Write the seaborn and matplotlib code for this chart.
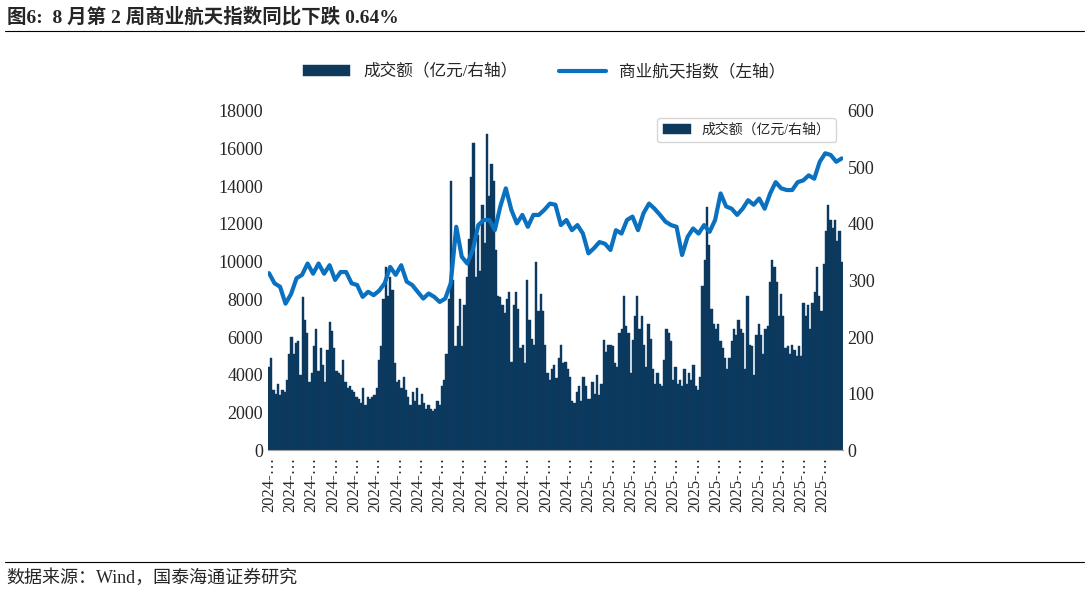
import numpy as np
import pandas as pd
import matplotlib
matplotlib.use("Agg")
import matplotlib.pyplot as plt
import seaborn as sns

turnover = [4400,4900,3200,3000,3500,2900,3200,3100,
 3700,5100,6000,5100,5700,5800,
 4000,8100,6900,6200,3600,
 4100,5500,6400,4200,5400,4500,3600,
 5300,6800,6300,5400,4200,
 4100,4000,4800,3600,3300,3400,
 3200,3100,2800,2700,2500,3300,2400,2800,
 2700,2800,2900,3300,
 4800,5500,8000,9700,8200,9200,8500,4600,
 3600,3700,3300,3900,3200,2800,2400,3100,2600,
 3300,2400,3000,2500,2200,2400,2200,
 2100,2200,2600,2400,3400,
 3700,5100,8000,14300,9000,5500,6600,8000,5500,
 7700,9200,11200,14500,16300,9200,11400,9500,13000,
 11000,16800,13500,15200,14300,10600,
 8200,8100,7700,7300,8000,8400,4700,7700,8400,7500,5400,5600,4600,9000,6900,
 5900,5600,10000,7400,8300,7400,5600,
 4100,3700,4300,4500,3800,4900,5600,4600,4700,4300,3900,
 2600,2500,3100,3400,2600,3900,3400,2700,2700,3600,3000,4000,2900,3500,
 5840,5200,5600,5600,5500,4600,4400,
 6200,6400,8200,6600,6200,4100,
 5840,7100,8200,6400,7100,5600,4400,
 6700,5900,4300,3500,4100,3500,3400,
 4800,6400,6200,5800,3700,4400,
 3500,3700,3400,4300,3500,4100,3700,4500,3400,3200,
 3900,8700,10100,12900,10900,7500,6700,6400,6700,
 5800,5400,4900,4300,4900,5800,6400,6100,6900,6400,6200,4300,
 8200,5600,5500,4000,6100,6700,6100,5100,6400,6600,
 8900,10100,9700,8900,7100,8300,7100,
 5400,5500,5100,5600,5300,5000,5500,5000,
 7800,7100,7700,6400,7800,8400,9700,8200,7400,
 9900,11600,13000,12200,11800,12200,11100,11600,10000]

index_vals = [313,295,289,259,276,304,310,330,312,330,312,327,301,315,315,295,292,
 271,280,274,282,295,324,310,327,298,292,280,268,277,271,262,268,295,395,342,330,
 354,398,407,407,389,431,463,425,401,416,395,416,416,425,436,
 434,398,407,389,398,383,348,357,368,365,354,389,383,407,413,389,419,436,427,416,
 404,398,395,345,377,392,383,398,386,407,454,431,427,416,427,442,434,445,427,454,
 474,463,460,460,474,477,486,480,510,525,522,510,516]

years = ["2024-…"] * 15 + ["2025-…"] * 12

n = len(turnover)
df = pd.DataFrame({"i": np.arange(n), "v": turnover})
dl = pd.DataFrame({"i": np.linspace(0, n - 1, len(index_vals)), "v": index_vals})

sns.set_style("white")
plt.rcParams["font.family"] = ["Liberation Serif", "Noto Sans CJK SC"]

fig = plt.figure(figsize=(10.89, 5.93), dpi=100)
ax = fig.add_axes([0.246, 0.241, 0.528, 0.572])
bar_c = "#023a68"
line_c = "#0a70c0"
sns.barplot(data=df, x="i", y="v", native_scale=True, width=1.0, color=bar_c,
            edgecolor=bar_c, linewidth=0.3, ax=ax, label="成交额（亿元/右轴）")
ax.set_xlim(-0.5, n - 0.5)
ax.set_ylim(0, 18000)
ax.set_yticks(range(0, 18001, 2000))
ax2 = ax.twinx()
sns.lineplot(data=dl, x="i", y="v", color=line_c, linewidth=3, ax=ax2,
             label="商业航天指数（左轴）")
ax2.set_ylim(0, 600)
ax2.set_yticks(range(0, 601, 100))
pos = np.arange(len(years)) * (n / len(years))
ax.set_xticks(pos)
ax.set_xticklabels(years, rotation=90, fontsize=12)
for a in (ax, ax2):
    a.set_xlabel(""); a.set_ylabel("")
    for s in ["top", "left", "right"]:
        a.spines[s].set_visible(False)
    a.tick_params(axis="y", labelsize=13, length=0)
ax2.spines["bottom"].set_visible(False)
ax.spines["bottom"].set_color("#a0a0a0")
ax.tick_params(axis="x", length=3, color="#404040", pad=2)
ax2.get_legend().remove()
h1, l1 = ax.get_legend_handles_labels()
h2, l2 = ax2.get_legend_handles_labels()
fig.legend(h1 + h2, l1 + l2, loc="center", bbox_to_anchor=(0.5, 0.878), ncol=2,
           frameon=False, fontsize=12, handlelength=2.8, columnspacing=2.5)

fig.text(0.006, 0.972, "图6:  8 月第 2 周商业航天指数同比下跌 0.64%", fontsize=14,
         fontweight="bold", va="center")
fig.add_artist(plt.Line2D([0.005, 0.995], [0.948, 0.948], color="black", lw=0.8))
fig.add_artist(plt.Line2D([0.005, 0.995], [0.052, 0.052], color="black", lw=0.8))
fig.text(0.006, 0.025, "数据来源：Wind，国泰海通证券研究", fontsize=13, va="center")
fig.savefig("out.png", dpi=100)
